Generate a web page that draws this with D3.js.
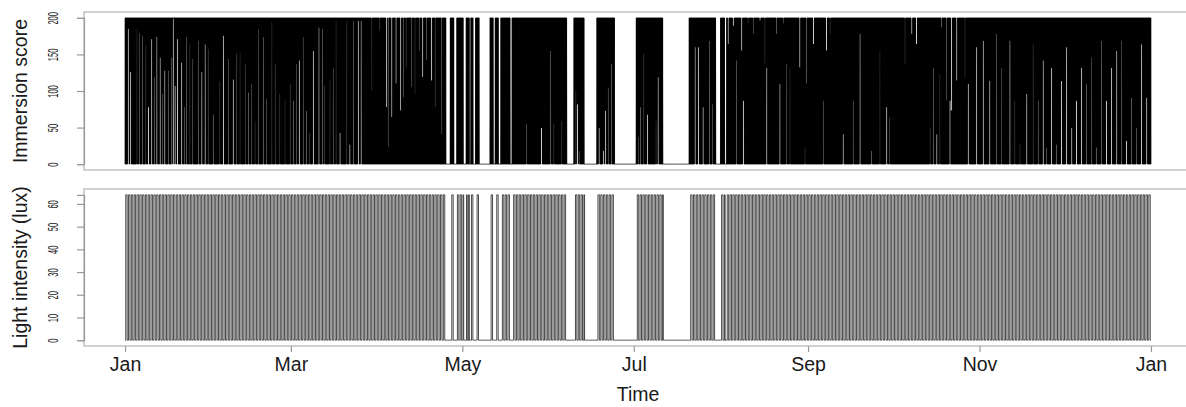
<!DOCTYPE html>
<html>
<head>
<meta charset="utf-8">
<script src="https://cdn.jsdelivr.net/npm/d3@7"></script>
<style>
  body { margin: 0; background: #fff; }
  text { font-family: Arial, "Liberation Sans", sans-serif; fill: #1a1a1a; }
</style>
</head>
<body>
<svg id="chart" width="1186" height="407"></svg>
<script>
// ---- data ----
const year = 2015;
const monthLabels = ['Jan', 'Mar', 'May', 'Jul', 'Sep', 'Nov', 'Jan'];
const monthIdx = [0, 2, 4, 6, 8, 10, 12];
const scoreTicks = [0, 50, 100, 150, 200];
const luxTicks = [0, 10, 20, 30, 40, 50, 60];
const scoreMax = 200;
const luxMax = 64;
const recordLength = 365; // days logged from 1 Jan

// spells in the burrow (days from 1 Jan): dark and dry, both series at 0
const burrowSpells = [
  [114.2, 115.6], [117.0, 118.0], [120.4, 121.3], [122.5, 123.0], [123.9, 124.6],
  [126.0, 129.8], [131.0, 131.7], [132.8, 133.7], [137.0, 137.6], [157.1, 159.7],
  [163.3, 167.8], [174.1, 181.8], [191.3, 200.7], [210.2, 211.9], [213.4, 214.0]
];

// wet spells: [day, lowest immersion score reached]
const wetSpells = [
  [1.2, 185], [2.0, 126], [4.2, 185], [5.1, 180], [6.3, 176], [7.4, 162], [8.3, 78],
  [9.5, 171], [10.4, 119], [11.3, 174], [12.5, 146], [13.4, 96], [14.2, 128], [15.4, 128],
  [16.6, 146], [17.2, 199], [17.8, 107], [18.7, 171], [20.2, 139], [21.1, 78], [21.9, 174],
  [23.1, 164], [24.1, 144], [26.1, 169], [27.3, 126], [28.5, 164], [29.6, 158], [31.4, 68],
  [33.8, 114], [35.0, 176], [36.8, 144], [38.5, 116], [39.7, 151], [40.9, 153], [42.7, 137],
  [43.9, 98], [45.1, 110], [46.2, 59], [47.4, 185], [49.2, 174], [50.4, 89], [52.2, 194],
  [53.4, 137], [55.1, 96], [56.9, 89], [58.7, 110], [59.9, 87], [61.1, 137], [62.0, 142],
  [63.4, 174], [64.6, 73], [65.8, 43], [67.0, 155], [69.0, 187], [70.3, 185], [71.1, 107],
  [72.9, 116], [74.1, 132], [75.1, 196], [76.5, 43], [78.9, 196], [80.0, 27], [81.2, 196],
  [83.0, 196], [84.0, 196],
  [142.9, 55], [148.2, 50], [151.4, 155], [152.6, 55], [155.4, 59],
  [160.4, 100], [161.0, 82], [161.6, 18], [168.7, 50], [170.2, 18], [171.0, 73], [171.9, 105],
  [173.1, 137], [182.6, 37], [183.4, 78], [184.6, 151], [185.8, 68], [188.9, 59], [189.7, 119],
  [202.8, 160], [204.0, 160], [205.7, 78], [207.9, 169], [209.1, 82],
  [217.6, 142], [220.0, 87], [228.3, 132], [233.0, 110], [235.4, 137], [236.6, 132],
  [241.9, 23], [248.4, 87], [255.5, 41], [259.1, 87], [261.5, 178], [265.6, 18], [268.6, 155],
  [271.0, 78], [272.1, 64], [286.4, 50], [287.6, 132], [288.8, 41], [289.9, 123], [293.5, 87],
  [300.0, 110], [303.0, 160], [305.3, 169], [307.7, 114], [310.1, 178], [311.9, 132],
  [314.8, 169], [316.6, 87], [318.4, 27], [320.8, 96], [323.1, 164], [324.9, 87], [326.7, 142],
  [327.9, 23], [329.7, 132], [331.4, 27], [333.2, 114], [335.0, 160], [336.8, 50], [338.5, 87],
  [340.3, 132], [342.1, 110], [343.9, 146], [345.6, 23], [347.4, 169], [349.2, 87], [351.0, 132],
  [352.8, 155], [354.6, 169], [356.3, 32], [358.1, 91], [359.9, 50], [361.7, 164], [363.5, 91]
];

// dry spells: [day, highest immersion score reached]
const drySpells = [
  [87.8, 100], [90.7, 183], [93.1, 78], [93.7, 23], [94.9, 64], [96.4, 110], [98.1, 73],
  [99.0, 91], [100.0, 132], [102.0, 105], [103.2, 96], [104.7, 155], [105.9, 119], [107.3, 142],
  [109.1, 114], [110.3, 78], [112.7, 41],
  [214.6, 164], [216.4, 189], [219.4, 155], [221.7, 192], [223.5, 178], [225.9, 196],
  [227.7, 137], [231.8, 178], [234.2, 192],
  [240.1, 132], [242.5, 110], [244.9, 164], [249.6, 155], [250.8, 178],
  [277.5, 137], [279.9, 178], [281.6, 164], [290.5, 187], [292.3, 87], [294.1, 73],
  [295.9, 114], [298.8, 119]
];

// ---- layout ----
const svg = d3.select('#chart');
const left = 84, right = 1192;
const panels = [
  { top: 12, bottom: 170, max: scoreMax, ticks: scoreTicks, title: 'Immersion score' },
  { top: 189, bottom: 346, max: luxMax, ticks: luxTicks, title: 'Light intensity (lux)' }
];

const t0 = new Date(year, 0, 1);
const t1 = new Date(year + 1, 0, 1);
const pad = (right - left) * 0.04 / 1.08;
const x = d3.scaleTime().domain([t0, t1]).range([left + pad, right - pad]);
const dayToDate = d => new Date(t0.getTime() + d * 864e5);

const inBurrow = d => burrowSpells.some(s => d >= s[0] && d < s[1]);

// ---- immersion, sampled every 2 hours ----
const iStep = 1 / 12;
const immersion = [];
for (let i = 0; i <= recordLength / iStep; i++) {
  const d = i * iStep;
  immersion.push({ d: d, v: inBurrow(d) ? 0 : (i % 2 ? scoreMax : 0) });
}
const spellHalf = 0.2;
immersion.forEach((s, i) => {
  if (inBurrow(s.d)) return;
  if (i % 2 === 0) {
    const w = wetSpells.find(e => Math.abs(e[0] - s.d) <= spellHalf);
    if (w) s.v = w[1];
  } else {
    const dr = drySpells.find(e => Math.abs(e[0] - s.d) <= spellHalf);
    if (dr) s.v = dr[1];
  }
});

// ---- light, sampled every 6 hours (saturates at 64 lux by day) ----
const lStep = 0.25;
const light = [];
for (let i = 0; i <= recordLength / lStep; i++) {
  const d = i * lStep;
  const frac = d - Math.floor(d);
  light.push({ d: d, v: inBurrow(d) ? 0 : (frac >= 0.25 && frac < 0.75 ? luxMax : 0) });
}

const series = [immersion, light];

panels.forEach((p, k) => {
  const ypad = (p.bottom - p.top) * 0.04 / 1.08;
  const y = d3.scaleLinear().domain([0, p.max]).range([p.bottom - ypad, p.top + ypad]);

  const line = d3.line()
    .x(d => x(dayToDate(d.d)))
    .y(d => y(d.v))
    .curve(k === 1 ? d3.curveStepAfter : d3.curveLinear);

  svg.append('path')
    .datum(series[k])
    .attr('d', line)
    .attr('fill', 'none')
    .attr('stroke', k === 1 ? '#1e1e1e' : '#000')
    .attr('stroke-width', 0.8);

  svg.append('rect')
    .attr('x', left).attr('y', p.top)
    .attr('width', right - left).attr('height', p.bottom - p.top)
    .attr('fill', 'none').attr('stroke', '#bdbdbd').attr('stroke-width', 1.4);

  const ax = svg.append('g')
    .attr('transform', 'translate(' + left + ',0)')
    .call(d3.axisLeft(y).tickValues(p.ticks).tickSize(7).tickPadding(0));
  ax.select('.domain').attr('stroke', '#9a9a9a').attr('stroke-width', 1.2);
  ax.selectAll('.tick line').attr('stroke', '#9a9a9a').attr('stroke-width', 1.2);
  ax.selectAll('.tick text')
    .attr('x', 0).attr('dy', null)
    .attr('text-anchor', 'middle')
    .attr('font-size', 15)
    .attr('transform', 'translate(-26,0) rotate(-90) scale(0.5,1)');

  svg.append('text')
    .attr('transform', 'translate(27,' + ((p.top + p.bottom) / 2) + ') rotate(-90)')
    .attr('text-anchor', 'middle')
    .attr('font-size', 19.5)
    .text(p.title);
});

// ---- time axis under the light panel ----
const xt = svg.append('g')
  .attr('transform', 'translate(0,346)')
  .call(d3.axisBottom(x)
    .tickValues(monthIdx.map(m => new Date(year, m, 1)))
    .tickFormat((d, i) => monthLabels[i])
    .tickSize(6).tickPadding(5));
xt.select('.domain').remove();
xt.selectAll('.tick line').attr('stroke', '#9a9a9a').attr('stroke-width', 1.2);
xt.selectAll('.tick text').attr('font-size', 19.5).attr('fill', '#1a1a1a');

svg.append('text')
  .attr('x', (x(t0) + x(t1)) / 2).attr('y', 401)
  .attr('text-anchor', 'middle')
  .attr('font-size', 19.5)
  .text('Time');
</script>
</body>
</html>
